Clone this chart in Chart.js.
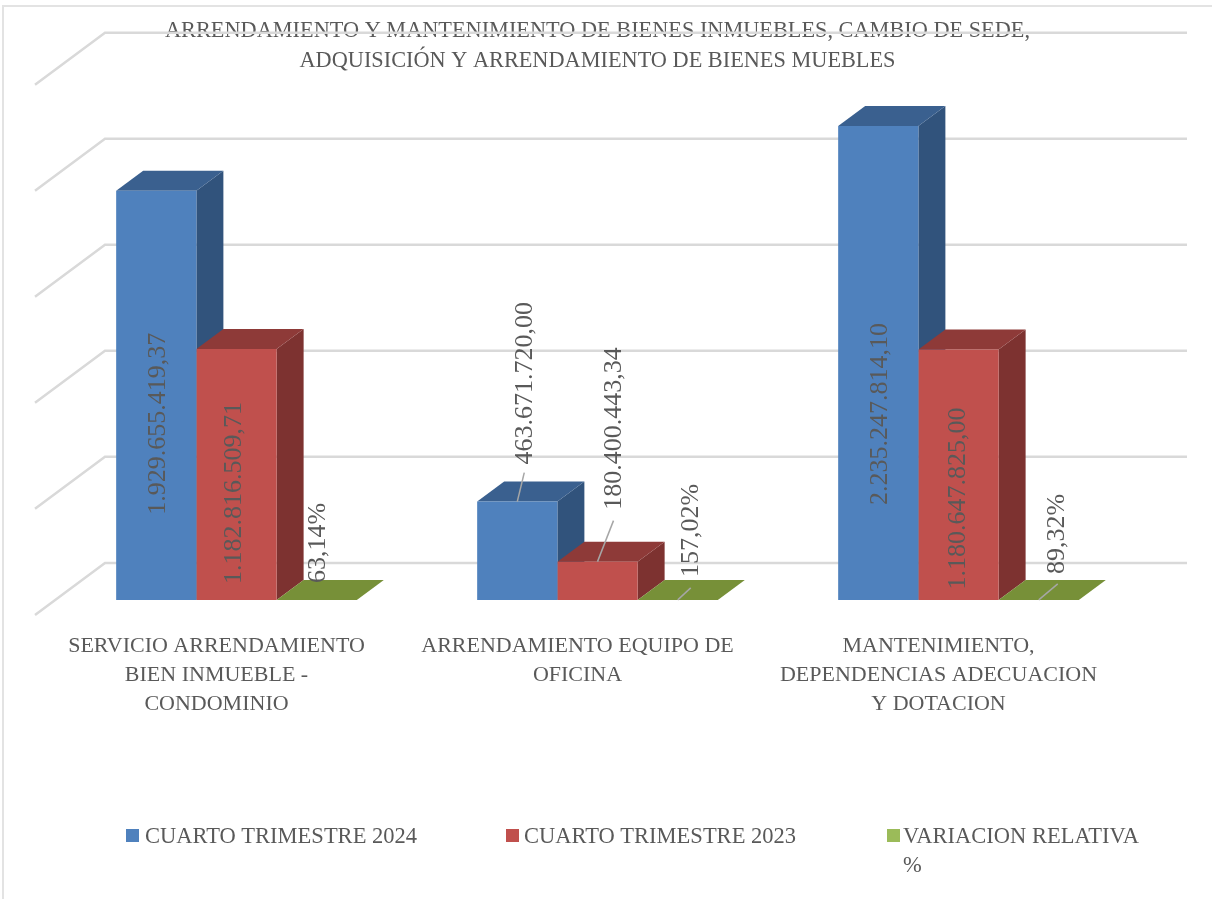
<!DOCTYPE html>
<html>
<head>
<meta charset="utf-8">
<script src="https://cdn.jsdelivr.net/npm/chart.js@4"></script>
<style>
  html, body { margin: 0; padding: 0; background: #fff; overflow: hidden; }
  #frame { position: absolute; left: 2px; top: 5px; width: 1210px; height: 894px; border-left: 2px solid #e3e3e3; border-top: 2px solid #e3e3e3; box-sizing: border-box; }
  #chart { position: absolute; left: 0; top: 0; }
</style>
</head>
<body>
<div id="frame"></div>
<canvas id="chart" width="1194" height="899"></canvas>
<script>
const titleLines = [
  "ARRENDAMIENTO Y MANTENIMIENTO DE BIENES INMUEBLES, CAMBIO DE SEDE,",
  "ADQUISICIÓN Y ARRENDAMIENTO DE BIENES MUEBLES"
];
const categories = [
  ["SERVICIO ARRENDAMIENTO", "BIEN INMUEBLE -", "CONDOMINIO"],
  ["ARRENDAMIENTO EQUIPO DE", "OFICINA"],
  ["MANTENIMIENTO,", "DEPENDENCIAS ADECUACION", "Y DOTACION"]
];
const cuarto2024 = [1929655419.37, 463671720.00, 2235247814.10];
const cuarto2023 = [1182816509.71, 180400443.34, 1180647825.00];
const variacion = [63.14, 157.02, 89.32];
const gridValues = [0, 500000000, 1000000000, 1500000000, 2000000000, 2500000000];

// manual placement of the rotated labels, relative to the top of each bar
const labelNudge = [
  [[2, 324], [8, -37], [2, 379]],
  [[-2, 235], [17, -52], [0, 240]],
  [[1, -17], [13, -23], [18, -26]]
];
const leaders = [
  [null, [7, -29], null],
  [null, [16, -41], null],
  [null, [13, -12], [19, -16]]
];

const depthX = 27, depthY = 20;
const serif = "'Liberation Serif', serif";
const textColor = "#595959";

function fmtMoney(v) {
  return v.toLocaleString("de-DE", { minimumFractionDigits: 2, maximumFractionDigits: 2 });
}
function fmtPct(v) {
  return v.toLocaleString("de-DE", { minimumFractionDigits: 2 }) + "%";
}
function poly(ctx, pts, color) {
  ctx.fillStyle = color;
  ctx.beginPath();
  pts.forEach((p, i) => i ? ctx.lineTo(p[0], p[1]) : ctx.moveTo(p[0], p[1]));
  ctx.closePath();
  ctx.fill();
}

const backWall = {
  id: "backWall",
  beforeDatasetsDraw(chart) {
    const ctx = chart.ctx, y = chart.scales.y;
    ctx.save();
    ctx.strokeStyle = "#d9d9d9";
    ctx.lineWidth = 2.5;
    gridValues.forEach(v => {
      const py = y.getPixelForValue(v) - 37;
      ctx.beginPath();
      ctx.moveTo(35, py + 52);
      ctx.lineTo(105, py);
      ctx.lineTo(1187, py);
      ctx.stroke();
    });
    ctx.restore();
  }
};

// side and top faces go under all the front faces, left series first
const extrude = {
  id: "extrude",
  beforeDatasetsDraw(chart) {
    const ctx = chart.ctx;
    chart.data.datasets.forEach((ds, di) => {
      chart.getDatasetMeta(di).data.forEach(bar => {
        const l = bar.x - bar.width / 2, r = bar.x + bar.width / 2;
        const t = bar.y, b = bar.base;
        poly(ctx, [[r, t], [r + depthX, t - depthY], [r + depthX, b - depthY], [r, b]], ds.sideColor);
        poly(ctx, [[l, t], [l + depthX, t - depthY], [r + depthX, t - depthY], [r, t]], ds.topColor);
      });
    });
  }
};

const barLabels = {
  id: "barLabels",
  afterDatasetsDraw(chart) {
    const ctx = chart.ctx;
    chart.data.datasets.forEach((ds, di) => {
      chart.getDatasetMeta(di).data.forEach((bar, i) => {
        const lead = leaders[di][i];
        if (lead) {
          ctx.save();
          ctx.strokeStyle = "#a6a6a6";
          ctx.lineWidth = 1.5;
          ctx.beginPath();
          ctx.moveTo(bar.x, bar.y);
          ctx.lineTo(bar.x + lead[0], bar.y + lead[1]);
          ctx.stroke();
          ctx.restore();
        }
        const nudge = labelNudge[di][i];
        ctx.save();
        ctx.translate(bar.x + nudge[0], bar.y + nudge[1]);
        ctx.rotate(-Math.PI / 2);
        ctx.font = "26px " + serif;
        ctx.fillStyle = textColor;
        ctx.textAlign = "left";
        ctx.textBaseline = "middle";
        ctx.fillText(ds.format(ds.data[i]), 0, 0);
        ctx.restore();
      });
    });
  }
};

const sideLegend = {
  id: "sideLegend",
  afterDraw(chart) {
    const ctx = chart.ctx;
    const slots = [126, 506, 887];
    const gaps = [19, 18, 16];
    ctx.save();
    ctx.font = "22.5px " + serif;
    ctx.textBaseline = "alphabetic";
    chart.data.datasets.forEach((ds, i) => {
      ctx.fillStyle = ds.backgroundColor;
      ctx.fillRect(slots[i], 829, 13, 13);
      ctx.fillStyle = textColor;
      ds.legendLines.forEach((line, n) => ctx.fillText(line, slots[i] + gaps[i], 843 + n * 29));
    });
    ctx.restore();
  }
};

new Chart(document.getElementById("chart"), {
  type: "bar",
  data: {
    labels: categories,
    datasets: [
      { label: "CUARTO TRIMESTRE 2024", legendLines: ["CUARTO TRIMESTRE 2024"], data: cuarto2024, format: fmtMoney,
        backgroundColor: "#4f81bd", sideColor: "#31537c", topColor: "#3a608f" },
      { label: "CUARTO TRIMESTRE 2023", legendLines: ["CUARTO TRIMESTRE 2023"], data: cuarto2023, format: fmtMoney,
        backgroundColor: "#c0504d", sideColor: "#7d3230", topColor: "#8e3a38" },
      { label: "VARIACION RELATIVA %", legendLines: ["VARIACION RELATIVA", "%"], data: variacion, format: fmtPct,
        backgroundColor: "#9bbb59", sideColor: "#6a8336", topColor: "#779038" }
    ]
  },
  options: {
    responsive: false,
    animation: false,
    layout: { padding: { left: 56, right: 55, top: 16, bottom: 156 } },
    datasets: { bar: { categoryPercentage: 0.6667, barPercentage: 1, borderWidth: 0 } },
    plugins: {
      legend: { display: false },
      tooltip: { enabled: false },
      title: {
        display: true,
        text: titleLines,
        color: textColor,
        font: { family: serif, size: 22.3, lineHeight: 1.345, weight: "normal" },
        padding: { top: 0, bottom: 15 }
      }
    },
    scales: {
      x: {
        grid: { display: false },
        border: { display: false },
        ticks: {
          autoSkip: false,
          maxRotation: 0,
          labelOffset: -20,
          padding: 24,
          color: textColor,
          font: { family: serif, size: 22, lineHeight: 1.32 }
        }
      },
      y: { display: false, min: 0, max: 2400000000 }
    }
  },
  plugins: [backWall, extrude, barLabels, sideLegend]
});
</script>
</body>
</html>
